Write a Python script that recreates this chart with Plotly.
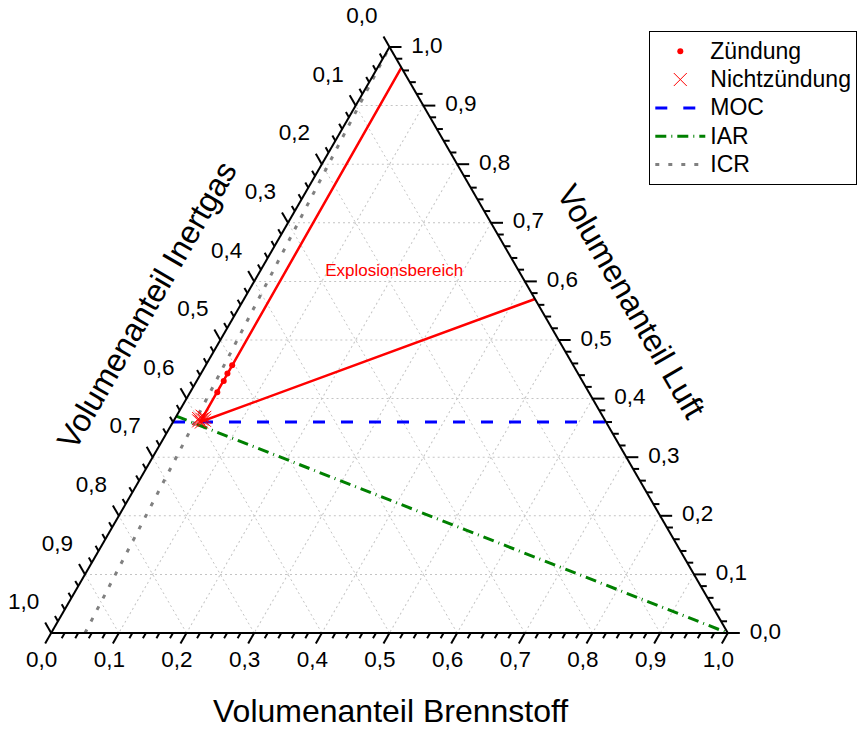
import numpy as np
import plotly.graph_objects as go

# ---- Volumenanteile: Luft (a), Brennstoff (c); Inertgas (b) ist der Rest ----
zuendung_luft = [0.457, 0.443, 0.430, 0.411]
zuendung_brennstoff = [0.039, 0.039, 0.040, 0.040]

nichtzuendung_luft = [0.365, 0.370, 0.360, 0.368, 0.362, 0.366, 0.363]
nichtzuendung_brennstoff = [0.040, 0.038, 0.042, 0.043, 0.037, 0.035, 0.045]

# Grenze des Explosionsbereichs (UEG-Ast, Spitze, OEG-Ast)
bereich_luft = [0.965, 0.360, 0.570]
bereich_brennstoff = [0.035, 0.040, 0.430]

moc_luft = [0.360, 0.360]
moc_brennstoff = [0.000, 0.640]

iar_luft = [0.370, 0.000]
iar_brennstoff = [0.000, 1.000]

icr_luft = [0.000, 1.000]
icr_brennstoff = [0.050, 0.000]

major_ticks = [0.0, 0.1, 0.2, 0.3, 0.4, 0.5, 0.6, 0.7, 0.8, 0.9, 1.0]
major_labels = ["0,0", "0,1", "0,2", "0,3", "0,4", "0,5", "0,6", "0,7", "0,8", "0,9", "1,0"]
minor_step = 0.02

label_text = "Explosionsbereich"
label_luft, label_brennstoff = 0.616, 0.199

FONT = "Arial, 'Liberation Sans', sans-serif"
SQ3 = np.sqrt(3)


def inert(luft, brenn):
    return [round(1.0 - l - c, 6) for l, c in zip(luft, brenn)]


# ---- Geometrie: Rahmen (Pixel), in den Plotly das Dreieck einpasst ----
FIG_W, FIG_H = 862, 729
BOX_L, BOX_R, BOX_T, BOX_B = 51, 728, 47, 633
box_w, box_h = BOX_R - BOX_L, BOX_B - BOX_T
SIDE = min(box_w, box_h * 2 / SQ3)          # Seitenlänge des Dreiecks in Pixeln
TRI_H = SIDE * SQ3 / 2
TRI_L = (BOX_L + BOX_R) / 2 - SIDE / 2      # linke Ecke
TRI_B = (BOX_T + BOX_B) / 2 + TRI_H / 2     # Grundlinie

ternary_domain = dict(x=[BOX_L / FIG_W, BOX_R / FIG_W],
                      y=[1 - BOX_B / FIG_H, 1 - BOX_T / FIG_H])

# kartesisches Hilfssystem: Seitenlänge 1, linke Ecke im Ursprung
x_range = [-TRI_L / SIDE, (FIG_W - TRI_L) / SIDE]
y_range = [(TRI_B - FIG_H) / SIDE, TRI_B / SIDE]


def to_xy(a, b, c):
    return c + a / 2, a * SQ3 / 2


def shift(a, b, c, dx, dy):
    """Move a ternary point by (dx, dy) screen pixels."""
    da = -dy / TRI_H
    dc = dx / SIDE - da / 2
    return a + da, b - da - dc, c + dc


# ---- Skalenstriche: entlang der jeweiligen Gitterrichtung nach außen ----
tx, ty = [], []
n_minor = int(round(1 / minor_step))
for i in range(n_minor + 1):
    v = i * minor_step
    length = 12 if i % 5 == 0 else 6
    d = length / SIDE
    segs = [
        [(0.0, 1 - v, v), (-d, 1 - v + d, v)],        # Brennstoff (unten)
        [(1 - v, v, 0.0), (1 - v + d, v, -d)],        # Inertgas (links)
        [(v, 0.0, 1 - v), (v, -d, 1 - v + d)],        # Luft (rechts)
    ]
    for p, q in segs:
        (x0, y0), (x1, y1) = to_xy(*p), to_xy(*q)
        tx += [x0, x1, None]
        ty += [y0, y1, None]

# ---- Beschriftungen der Skalen ----
lx, ly, lt = [], [], []
for v, txt in zip(major_ticks, major_labels):
    for pt in (
        shift(0.0, 1 - v, v, -9.5, 28),      # Brennstoff
        shift(1 - v, v, 0.0, -27.5, -29.5),  # Inertgas
        shift(v, 0.0, 1 - v, 37.5, 0),       # Luft
    ):
        x, y = to_xy(*pt)
        lx.append(x); ly.append(y); lt.append(txt)

fig = go.Figure()

# Achsenstriche und Zahlen im kartesischen Hilfssystem
fig.add_trace(go.Scatter(
    x=tx, y=ty, mode="lines", line=dict(color="black", width=2),
    hoverinfo="skip", showlegend=False, cliponaxis=False))
fig.add_trace(go.Scatter(
    x=lx, y=ly, text=lt, mode="text", textposition="middle center",
    textfont=dict(family=FONT, size=22.5, color="black"),
    hoverinfo="skip", showlegend=False, cliponaxis=False))

DASH_MOC = "12px,16px"
DASH_IAR = "11px,5px,1px,5px"
DASH_ICR = "4px,9px"

fig.add_trace(go.Scatterternary(
    a=icr_luft, b=inert(icr_luft, icr_brennstoff), c=icr_brennstoff,
    mode="lines", name="ICR", showlegend=False,
    line=dict(color="#808080", width=3, dash=DASH_ICR)))

fig.add_trace(go.Scatterternary(
    a=iar_luft, b=inert(iar_luft, iar_brennstoff), c=iar_brennstoff,
    mode="lines", name="IAR", showlegend=False,
    line=dict(color="#008000", width=3, dash=DASH_IAR)))

fig.add_trace(go.Scatterternary(
    a=moc_luft, b=inert(moc_luft, moc_brennstoff), c=moc_brennstoff,
    mode="lines", name="MOC", showlegend=False,
    line=dict(color="#0000ff", width=3, dash=DASH_MOC)))

fig.add_trace(go.Scatterternary(
    a=bereich_luft, b=inert(bereich_luft, bereich_brennstoff), c=bereich_brennstoff,
    mode="lines", name="Explosionsbereich", showlegend=False,
    line=dict(color="#ff0000", width=2.5)))

fig.add_trace(go.Scatterternary(
    a=[label_luft], b=inert([label_luft], [label_brennstoff]), c=[label_brennstoff],
    text=[label_text], mode="text", textposition="middle center",
    textfont=dict(family=FONT, size=17, color="#ff0000"),
    hoverinfo="skip", showlegend=False))

LEG = "<span style='font-size:23px'>{}</span>"

fig.add_trace(go.Scatterternary(
    a=zuendung_luft, b=inert(zuendung_luft, zuendung_brennstoff), c=zuendung_brennstoff,
    mode="markers", name=LEG.format("Zündung"),
    marker=dict(symbol="circle", size=6, color="#ff0000")))

fig.add_trace(go.Scatterternary(
    a=nichtzuendung_luft, b=inert(nichtzuendung_luft, nichtzuendung_brennstoff),
    c=nichtzuendung_brennstoff, mode="markers", name=LEG.format("Nichtzündung"),
    marker=dict(symbol="x-thin-open", size=13, color="#ff0000",
                line=dict(color="#ff0000", width=1))))

# Legendeneinträge der Kenngeraden in gewünschter Reihenfolge
for name, color, dash in [("MOC", "#0000ff", DASH_MOC),
                          ("IAR", "#008000", DASH_IAR),
                          ("ICR", "#808080", DASH_ICR)]:
    fig.add_trace(go.Scatterternary(
        a=[None], b=[None], c=[None], mode="lines", name=LEG.format(name),
        line=dict(color=color, width=3, dash=dash)))

axis_common = dict(
    showline=True, linecolor="black", linewidth=2,
    showgrid=True, gridcolor="#c4c4c4", gridwidth=1, griddash="2px,3px",
    tickmode="linear", tick0=0, dtick=0.1, ticks="", showticklabels=False,
    title=dict(text=""), min=0,
)

hidden_axis = dict(visible=False, showgrid=False, zeroline=False,
                   fixedrange=True, domain=[0, 1])

fig.update_layout(
    width=FIG_W, height=FIG_H,
    margin=dict(l=0, r=0, t=0, b=0, pad=0),
    paper_bgcolor="white", plot_bgcolor="rgba(0,0,0,0)",
    font=dict(family=FONT, color="black"),
    xaxis=dict(hidden_axis, range=x_range),
    yaxis=dict(hidden_axis, range=y_range),
    ternary=dict(
        sum=1, bgcolor="white", domain=ternary_domain,
        aaxis=axis_common, baxis=axis_common, caxis=axis_common,
    ),
    legend=dict(
        x=649.3 / FIG_W, y=1 - 31 / FIG_H, xanchor="left", yanchor="top",
        bgcolor="white", bordercolor="black", borderwidth=1,
        font=dict(family=FONT, size=19.5, color="black"),
        itemwidth=50, tracegroupgap=0,
    ),
    showlegend=True,
    annotations=[
        dict(text="Volumenanteil Brennstoff", x=390 / FIG_W, y=1 - 711 / FIG_H,
             xref="paper", yref="paper", showarrow=False,
             xanchor="center", yanchor="middle",
             font=dict(family=FONT, size=32, color="black")),
        dict(text="Volumenanteil Inertgas", x=147 / FIG_W, y=1 - 305 / FIG_H,
             xref="paper", yref="paper", showarrow=False, textangle=-60,
             xanchor="center", yanchor="middle",
             font=dict(family=FONT, size=32, color="black")),
        dict(text="Volumenanteil Luft", x=631 / FIG_W, y=1 - 301 / FIG_H,
             xref="paper", yref="paper", showarrow=False, textangle=60,
             xanchor="center", yanchor="middle",
             font=dict(family=FONT, size=32, color="black")),
    ],
)

fig.write_html("out.html")
